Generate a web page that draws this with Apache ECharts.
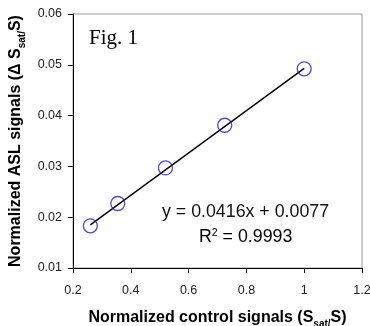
<!DOCTYPE html>
<html>
<head>
<meta charset="utf-8">
<script src="https://cdn.jsdelivr.net/npm/echarts@6/dist/echarts.min.js"></script>
<style>
html,body{margin:0;padding:0;background:#fff;}
#c{width:370px;height:326px;}
</style>
</head>
<body>
<div id="c"></div>
<script>
// Data
var controlSignals = [0.26, 0.355, 0.52, 0.725, 1.0];      // x: Ssat/S
var aslSignals     = [0.0183, 0.0227, 0.0297, 0.0381, 0.0492]; // y: ΔSsat/S
// Linear trendline endpoints (y = 0.0416x + 0.0077)
var trendX = [0.26, 1.0];
var trendY = [0.0185, 0.0493];
var xTicks = [0.2, 0.4, 0.6, 0.8, 1, 1.2];
var yTicks = [0.01, 0.02, 0.03, 0.04, 0.05, 0.06];
var equationText = 'y = 0.0416x + 0.0077';
var r2Text = '0.9993';
var figLabel = 'Fig. 1';

var pts = controlSignals.map(function (x, i) { return [x, aslSignals[i]]; });
var trend = trendX.map(function (x, i) { return [x, trendY[i]]; });

var chart = echarts.init(document.getElementById('c'), null, {renderer: 'canvas'});
var font = 'Liberation Sans, Arial, sans-serif';
var subStyle = {fontFamily: font, fontWeight: 'bold', fontSize: 10, color: '#000', verticalAlign: 'bottom', padding: [0, 0, -3, 0]};
chart.setOption({
  animation: false,
  backgroundColor: '#fff',
  grid: {left: 73, right: 8, top: 14, bottom: 58, show: true, borderColor: '#999', borderWidth: 1,
         backgroundColor: 'transparent', containLabel: false, outerBoundsMode: 'none'},
  xAxis: {
    type: 'value', min: xTicks[0], max: xTicks[xTicks.length - 1], interval: 0.2,
    axisLine: {show: true, lineStyle: {color: '#000', width: 1}},
    axisTick: {show: true, inside: false, length: 5, lineStyle: {color: '#000'}},
    splitLine: {show: false},
    axisLabel: {fontFamily: font, fontSize: 12.5, color: '#222', margin: 16},
    name: '{b|Normalized control signals (S}{s|sat/}{b|S)}',
    nameLocation: 'middle', nameGap: 42,
    nameTextStyle: {rich: {
      b: {fontFamily: font, fontWeight: 'bold', fontSize: 16, color: '#000'},
      s: subStyle
    }}
  },
  yAxis: {
    type: 'value', min: yTicks[0], max: yTicks[yTicks.length - 1], interval: 0.01,
    axisLine: {show: true, lineStyle: {color: '#000', width: 1}},
    axisTick: {show: true, inside: false, length: 5, lineStyle: {color: '#000'}},
    splitLine: {show: false},
    axisLabel: {fontFamily: font, fontSize: 12.5, color: '#222', margin: 11},
    name: '{b|Normalized ASL signals (\u0394 S}{s|sat/}{b|S)}',
    nameLocation: 'middle', nameGap: 36, nameRotate: 90,
    nameTextStyle: {rich: {
      b: {fontFamily: font, fontWeight: 'bold', fontSize: 16, color: '#000'},
      s: subStyle
    }}
  },
  series: [
    {
      type: 'line', data: trend, showSymbol: false, symbol: 'none',
      lineStyle: {color: '#000', width: 1.4}, z: 2, silent: true
    },
    {
      type: 'scatter', data: pts, symbol: 'circle', symbolSize: 14,
      itemStyle: {color: 'rgba(0,0,0,0)', borderColor: '#1f1fb0', borderWidth: 1.3}, z: 3
    }
  ],
  graphic: [
    {type: 'text', left: 89, top: 28, style: {text: figLabel, font: '21px "Liberation Serif", "Times New Roman", serif', fill: '#000'}},
    {type: 'text', left: 162, top: 203, style: {text: equationText, font: '17.8px ' + font, fill: '#111'}},
    {type: 'text', left: 199, top: 228, style: {
      text: '{r|R}{p|2}{r| = ' + r2Text + '}',
      rich: {
        r: {fontFamily: font, fontSize: 17.8, color: '#111'},
        p: {fontFamily: font, fontSize: 10.5, color: '#111', verticalAlign: 'top', padding: [0, 0, 8, 0]}
      }
    }}
  ]
});
</script>
</body>
</html>
